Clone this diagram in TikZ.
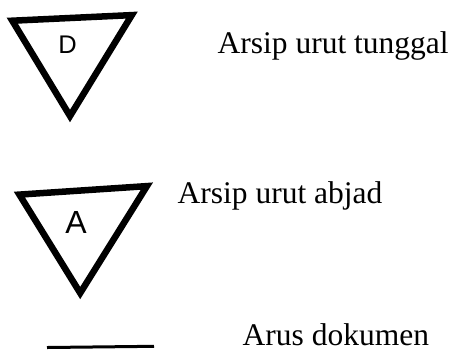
\documentclass[tikz,border=0pt]{standalone}
\usepackage{fontspec}
\setmainfont{Liberation Serif}
\newfontfamily\arialfont{Liberation Sans}
\begin{document}
\begin{tikzpicture}[x=1bp,y=-1bp,
  tri/.style={draw=black,line width=6.5bp,line join=miter,fill=white},
  lbl/.style={anchor=base west,inner sep=0pt,text depth=0pt,font=\fontsize{31.5bp}{36bp}\selectfont},
  letter/.style={anchor=base,inner sep=0pt}]
\useasboundingbox (0,0) rectangle (454,349);
% triangle D
\coordinate (t1a) at (12.3,20.7);
\coordinate (t1b) at (131.8,15.1);
\coordinate (t1c) at (70,116);
\draw[tri] (t1a) -- (t1b) -- (t1c) -- cycle;
\node[letter,font=\arialfont\fontsize{25.5bp}{30bp}\selectfont] (d) at (67.5,53) {D};
\node[lbl] (l1) at (217.5,53) {Arsip urut tunggal};
% triangle A
\coordinate (t2a) at (19.4,194.6);
\coordinate (t2b) at (146.9,186.1);
\coordinate (t2c) at (80.2,293);
\draw[tri] (t2a) -- (t2b) -- (t2c) -- cycle;
\node[letter,font=\arialfont\fontsize{32bp}{38bp}\selectfont] (a) at (76,233) {A};
\node[lbl] (l2) at (177.5,203) {Arsip urut abjad};
% document flow line
\coordinate (f1) at (47,347.5);
\coordinate (f2) at (154,346.3);
\draw[line width=3bp] (f1) -- (f2);
\node[lbl] (l3) at (242.5,345.5) {Arus dokumen};
\end{tikzpicture}
\end{document}
